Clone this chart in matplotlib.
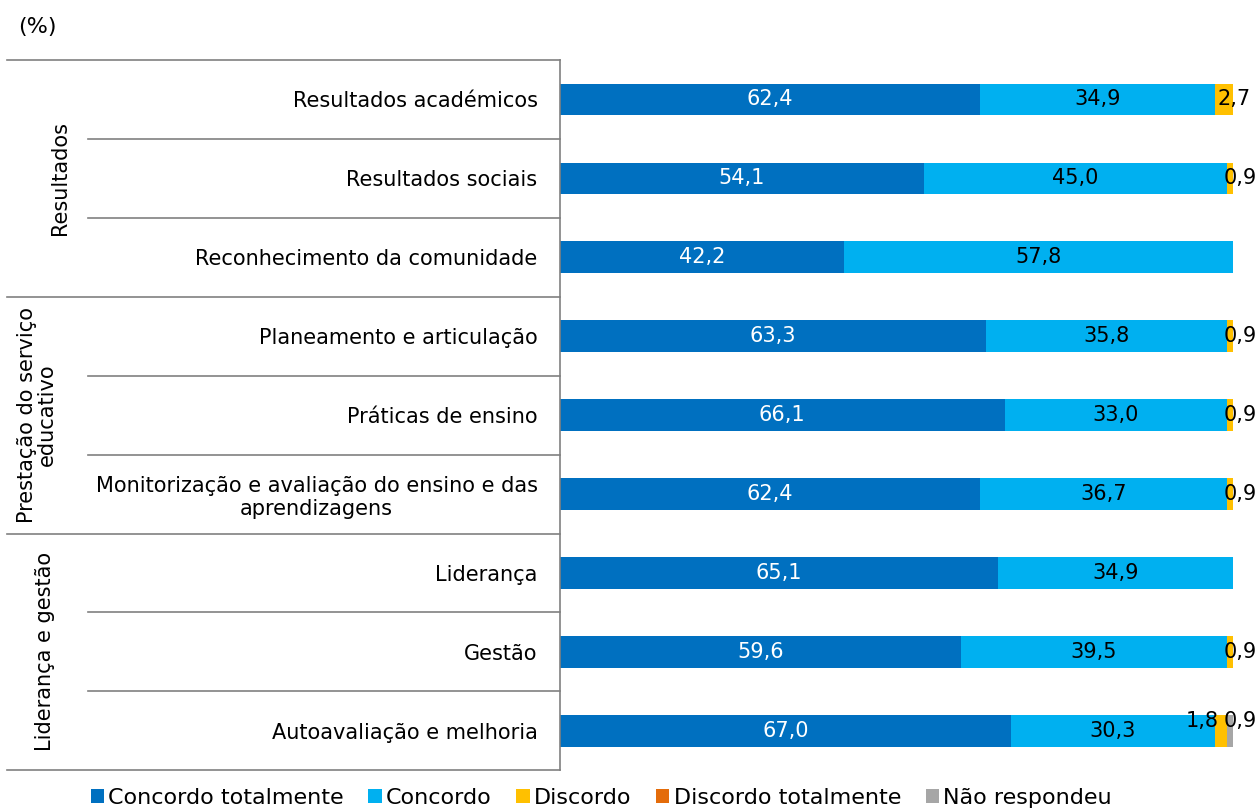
import matplotlib
matplotlib.use("Agg")
import matplotlib.pyplot as plt
from matplotlib.patches import Patch
from matplotlib.lines import Line2D

plt.rcParams['font.family'] = ['DejaVu Sans']

categories = ["Resultados académicos", "Resultados sociais", "Reconhecimento da comunidade",
              "Planeamento e articulação", "Práticas de ensino",
              "Monitorização e avaliação do ensino e das\naprendizagens",
              "Liderança", "Gestão", "Autoavaliação e melhoria"]
groups = ["Resultados", "Prestação do serviço\neducativo", "Liderança e gestão"]
group_sizes = [3, 3, 3]
series_names = ["Concordo totalmente", "Concordo", "Discordo", "Discordo totalmente", "Não respondeu"]
concordo_totalmente = [62.4, 54.1, 42.2, 63.3, 66.1, 62.4, 65.1, 59.6, 67.0]
concordo = [34.9, 45.0, 57.8, 35.8, 33.0, 36.7, 34.9, 39.5, 30.3]
discordo = [2.7, 0.9, 0.0, 0.9, 0.9, 0.9, 0.0, 0.9, 1.8]
discordo_totalmente = [0, 0, 0, 0, 0, 0, 0, 0, 0]
nao_respondeu = [0, 0, 0, 0, 0, 0, 0, 0, 0.9]

colors = ["#0070C0", "#00B0F0", "#FFC000", "#E46C0A", "#A6A6A6"]
series = [concordo_totalmente, concordo, discordo, discordo_totalmente, nao_respondeu]

fig = plt.figure(figsize=(12.58, 8.10), dpi=100)
ax = fig.add_axes([0.445, 0.049, 0.535, 0.877])

n = len(categories)
ypos = list(range(n))
left = [0.0] * n
FS = 15
for si, (vals, col) in enumerate(zip(series, colors)):
    ax.barh(ypos, vals, left=left, height=0.4, color=col, edgecolor='none')
    for i, v in enumerate(vals):
        if v > 0:
            cx = left[i] + v / 2
            txt = f"{v:.1f}".replace('.', ',')
            if si == 0:
                ax.text(cx, i, txt, ha='center', va='center', color='white', fontsize=FS)
            elif si == 1:
                ax.text(cx, i, txt, ha='center', va='center', color='black', fontsize=FS)
            else:
                dx, dy = 7.5, 0
                if i == n - 1:
                    dx = -13 if si == 2 else 7.5
                    dy = 7
                ax.annotate(txt, (cx, i), xytext=(dx, dy), textcoords='offset points',
                            ha='center', va='center', color='black', fontsize=FS)
    left = [l + v for l, v in zip(left, vals)]

ax.set_xlim(0, 100)
ax.set_ylim(n - 0.5, -0.5)
ax.set_yticks(ypos)
ax.set_yticklabels(categories, fontsize=FS, ha='right')
ax.tick_params(axis='y', length=0, pad=16)
ax.set_xticks([])
for s in ['top', 'right', 'bottom']:
    ax.spines[s].set_visible(False)
ax.spines['left'].set_color('#808080')
ax.spines['left'].set_linewidth(1.2)
for lbl in ax.get_yticklabels():
    lbl.set_multialignment('center')

# separator lines in figure coordinates
x_spine = 0.445
top = 0.926
bot = 0.049
row_h = (top - bot) / n
x_outer = 7 / 1258
x_inner = 88 / 1258
boundaries = []
start = 0
for gs in group_sizes:
    boundaries.append(start)
    start += gs
boundaries.append(n)
for b in range(n + 1):
    y = top - b * row_h
    xs = x_outer if b in boundaries else x_inner
    fig.add_artist(Line2D([xs, x_spine], [y, y], color='#808080', lw=1.2))

group_x = [60 / 1258, 37 / 1258, 45 / 1258]
start = 0
for g, gs, gx in zip(groups, group_sizes, group_x):
    yc = top - (start + gs / 2) * row_h
    fig.text(gx, yc, g, rotation=90, ha='center', va='center', fontsize=FS,
             multialignment='center', linespacing=1.0)
    start += gs

fig.text(18 / 1258, 1 - 27 / 810, "(%)", ha='left', va='center', fontsize=16)

handles = [Patch(facecolor=c, edgecolor='none') for c in colors]
fig.legend(handles, series_names, loc='lower center', bbox_to_anchor=(0.478, -0.022),
           ncol=5, frameon=False, fontsize=16, handlelength=0.6, handleheight=0.6,
           handletextpad=0.2, columnspacing=1.1)

fig.savefig("out.png", dpi=100)
